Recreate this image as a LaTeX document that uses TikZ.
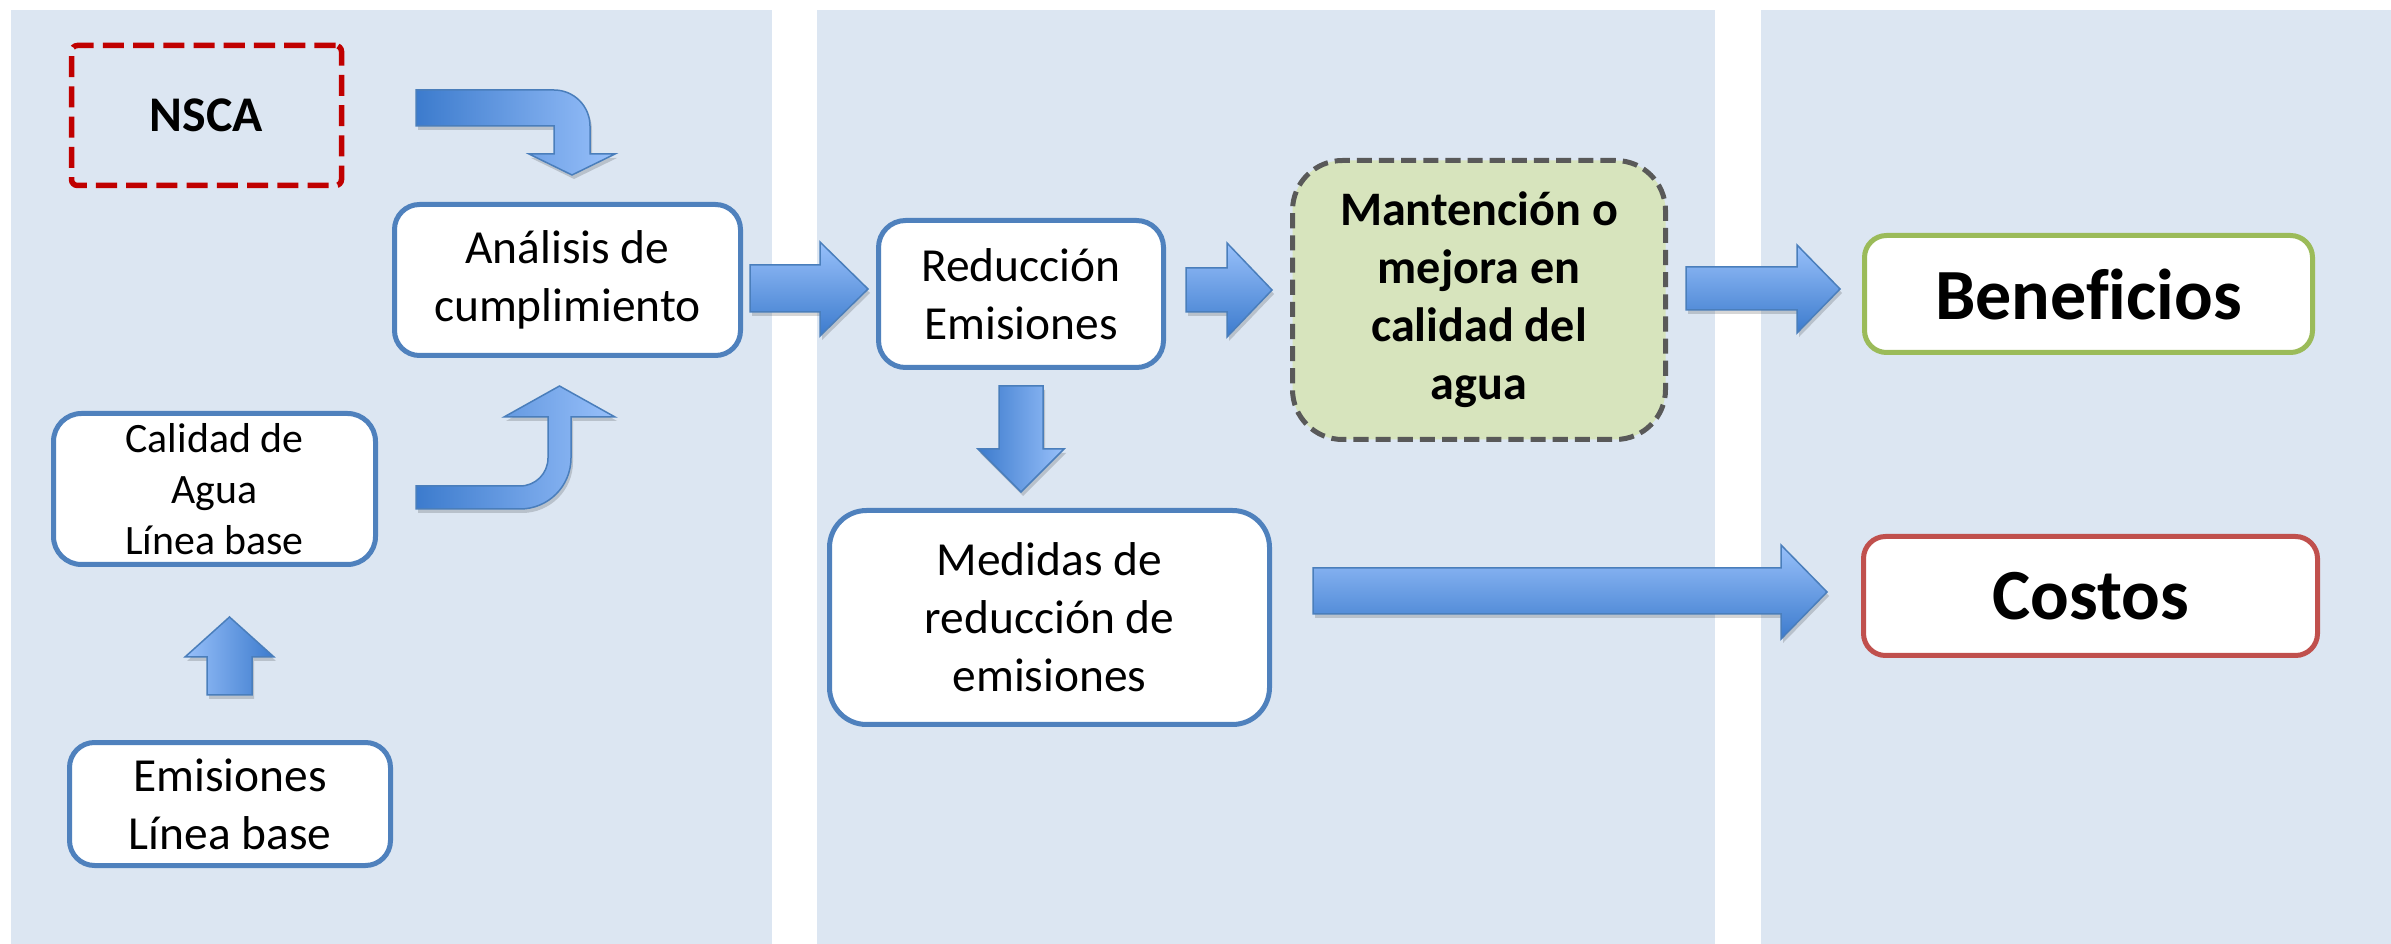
\documentclass[tikz,border=0pt]{standalone}
\usepackage{fontspec}
\setmainfont{Carlito}[Ligatures=NoCommon]
\definecolor{panel}{HTML}{DCE6F2}
\definecolor{boxblue}{HTML}{4F81BD}
\definecolor{nscared}{HTML}{C00000}
\definecolor{greenfill}{HTML}{D7E4BD}
\definecolor{greenline}{HTML}{9BBB59}
\definecolor{costred}{HTML}{C0504D}
\definecolor{dashgray}{HTML}{595959}
\definecolor{arrdark}{HTML}{3C7BCD}
\definecolor{arrlight}{HTML}{98C0FA}
\definecolor{arrline}{HTML}{4A7EBB}
\newcommand{\blockarr}[2]{%
  \fill[arrshadow,shift={(2,4)}] #2;
  \path[blockarrow,#1] #2;}
\begin{document}
\begin{tikzpicture}[x=0.1mm,y=-0.1mm,
  bluebox/.style={draw=boxblue, line width=0.5mm, fill=white, rounded corners=2.5mm,
    align=center, inner sep=0pt, font=\fontsize{13.5}{16.5}\selectfont},
  blockarrow/.style={draw=arrline, line width=0.15mm},
  arrshadow/.style={fill=black, opacity=0.16},
  hgrad/.style={top color=arrlight, bottom color=arrdark},
  lrgrad/.style={left color=arrdark, right color=arrlight},
  rlgrad/.style={left color=arrlight, right color=arrdark}]
\useasboundingbox (0,0) rectangle (2391,944);
% panels
\fill[panel] (11,10) rectangle (772,944);
\fill[panel] (817,10) rectangle (1715,944);
\fill[panel] (1761,10) rectangle (2391,944);
% nodes
\node[draw=nscared, line width=0.55mm, dash pattern=on 6pt off 2.6pt, rounded corners=0.6mm,
  minimum width=27mm, minimum height=14mm, inner sep=0pt,
  font=\fontsize{14.2}{17}\selectfont\bfseries] (nsca) at (206.5,115.5) {NSCA};
\node[bluebox, minimum width=34.6mm, minimum height=15.1mm] (anal) at (567.5,280) {Análisis de\\cumplimiento};
\node[bluebox, minimum width=32.2mm, minimum height=15.1mm, rounded corners=2.8mm,
  font=\fontsize{11.9}{14.5}\selectfont] (calidad) at (214.5,489) {Calidad de\\Agua\\Línea base};
\node[bluebox, minimum width=32.1mm, minimum height=12.3mm] (emis) at (230,804) {Emisiones\\Línea base};
\node[bluebox, minimum width=28.5mm, minimum height=14.7mm, rounded corners=2.7mm] (reduc) at (1021,294) {Reducción\\Emisiones};
\node[bluebox, minimum width=44mm, minimum height=21.4mm, rounded corners=3.7mm] (medidas) at (1049.5,617.5) {Medidas de\\reducción de\\emisiones};
\node[draw=dashgray, fill=greenfill, line width=0.5mm, dash pattern=on 4.3pt off 2pt,
  rounded corners=5mm, minimum width=37.3mm, minimum height=27.9mm, inner sep=0pt, align=center,
  font=\fontsize{13.7}{16.5}\selectfont\bfseries] (mejora) at (1479,300) {Mantención o\\mejora en\\calidad del\\agua};
\node[bluebox, draw=greenline, minimum width=44.8mm, minimum height=11.7mm, rounded corners=2.2mm,
  font=\fontsize{20.5}{24}\selectfont\bfseries] (benef) at (2088.5,294) {Beneficios};
\node[bluebox, draw=costred, minimum width=45.4mm, minimum height=11.9mm, rounded corners=2.2mm,
  font=\fontsize{20.5}{24}\selectfont\bfseries] (costos) at (2090.5,596) {Costos};
% block arrows
\blockarr{lrgrad}{(416,90) -- (554,90) .. controls (573.9,90) and (590,106.1) .. (590,126) -- (590,154) -- (615,154) -- (572,175) -- (529,154) -- (554,154) -- (554,126) -- (416,126) -- cycle}
\blockarr{lrgrad}{(416,509) -- (520,509) .. controls (548.2,509) and (571,486.2) .. (571,458) -- (571,417) -- (615,417) -- (559.5,386) -- (504,417) -- (548,417) -- (548,458) .. controls (548,473.5) and (535.5,486) .. (520,486) -- (416,486) -- cycle}
\blockarr{rlgrad}{(207,695) -- (207,657) -- (185,657) -- (229.5,617) -- (274,657) -- (252,657) -- (252,695) -- cycle}
\blockarr{hgrad}{(750,265) -- (820,265) -- (820,242) -- (868,289) -- (820,336) -- (820,312) -- (750,312) -- cycle}
\blockarr{hgrad}{(1186,268) -- (1227,268) -- (1227,243) -- (1272,290) -- (1227,337) -- (1227,312) -- (1186,312) -- cycle}
\blockarr{lrgrad}{(999,386) -- (1043,386) -- (1043,449) -- (1064,449) -- (1021,492) -- (978,449) -- (999,449) -- cycle}
\blockarr{hgrad}{(1686,267) -- (1797,267) -- (1797,245) -- (1840,289) -- (1797,333) -- (1797,310) -- (1686,310) -- cycle}
\blockarr{hgrad}{(1313,568) -- (1781,568) -- (1781,545) -- (1827,592) -- (1781,639) -- (1781,614) -- (1313,614) -- cycle}
\end{tikzpicture}
\end{document}
